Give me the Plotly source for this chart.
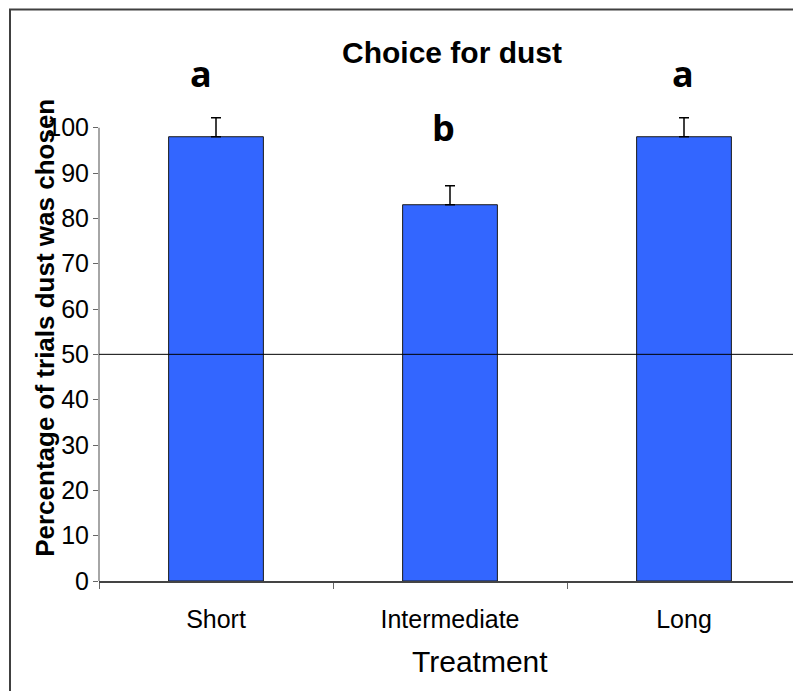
import plotly.graph_objects as go

# ---- data ----
categories = ["Short", "Intermediate", "Long"]
percent_chosen = [98, 83, 98]
std_error = [4.2, 4.2, 4.2]
sig_letters = ["a", "b", "a"]
letter_heights = [112, 100, 112]
reference_level = 50
y_ticks = [0, 10, 20, 30, 40, 50, 60, 70, 80, 90, 100]
y_axis_top = 100     # visible axis line ends here
y_range_max = 105    # headroom so error bars are not clipped

# ---- layout geometry (pixels, page has an 8px body margin) ----
OFF = 8
PX_PER_UNIT = 4.53
W, H = 801 - OFF, 691 - OFF
L, R, B = 99 - OFF, 0, 691 - 581
PH = y_range_max * PX_PER_UNIT
T = H - B - PH
PW = W - L - R


def px_x(px):
    # px given in page coordinates
    return (px - OFF - L) / PW


def px_y(py):
    return (H - B - (py - OFF)) / PH


fig = go.Figure()
fig.add_trace(go.Bar(
    x=categories,
    y=percent_chosen,
    width=0.405,
    marker=dict(color="#3366FF", line=dict(color="#1a1a1a", width=1)),
    error_y=dict(type="data", array=std_error, arrayminus=[0] * len(std_error),
                 symmetric=False, color="#000000", thickness=1.5, width=5),
    showlegend=False,
))

# y axis line (only up to 100)
fig.add_shape(type="line", xref="paper", yref="y", x0=0, x1=0,
              y0=0, y1=y_axis_top, line=dict(color="#888888", width=1.5))

fig.add_shape(type="line", xref="paper", yref="y", x0=0, x1=1,
              y0=reference_level, y1=reference_level,
              line=dict(color="#000000", width=1))

# outer border (clipped on right/bottom as in reference)
fig.add_shape(type="rect", xref="paper", yref="paper",
              x0=px_x(10), x1=px_x(900), y0=px_y(800), y1=px_y(10),
              line=dict(color="#404040", width=2), fillcolor="rgba(0,0,0,0)",
              layer="above")

shifts = [-15, -7, -1]
for cat, letter, yy, sh in zip(categories, sig_letters, letter_heights, shifts):
    fig.add_annotation(x=cat, y=yy / y_range_max, xref="x", yref="paper", text=letter,
                       showarrow=False, xshift=sh, xanchor="center", yanchor="middle",
                       font=dict(family="Open Sans", size=36, color="#000000", weight="bold"))

fig.add_annotation(x=px_x(452), y=px_y(53), xref="paper", yref="paper",
                   text="<b>Choice for dust</b>", showarrow=False,
                   xanchor="center", yanchor="middle",
                   font=dict(family="Liberation Sans", size=30, color="#000000"))
fig.add_annotation(x=px_x(480), y=px_y(661), xref="paper", yref="paper",
                   text="Treatment", showarrow=False,
                   xanchor="center", yanchor="middle",
                   font=dict(family="Liberation Sans", size=30, color="#000000"))
fig.add_annotation(x=px_x(45), y=px_y(328), xref="paper", yref="paper",
                   text="<b>Percentage of trials dust was chosen</b>", showarrow=False,
                   textangle=-90, xanchor="center", yanchor="middle",
                   font=dict(family="Liberation Sans", size=26, color="#000000"))

fig.update_layout(
    width=W, height=H,
    margin=dict(l=L, r=R, t=T, b=B, pad=0),
    paper_bgcolor="white", plot_bgcolor="white",
    font=dict(family="Liberation Sans", color="#000000"),
)
fig.update_xaxes(
    type="category", range=[-0.5, 2.5],
    showline=True, linecolor="#444444", linewidth=1.5,
    ticks="outside", tickson="boundaries", ticklen=6, tickcolor="#666666",
    showgrid=False, zeroline=False,
    tickfont=dict(family="Liberation Sans", size=25, color="#000000"),
    ticklabelstandoff=15,
)
fig.update_yaxes(
    range=[0, y_range_max], tickvals=y_ticks,
    showline=False,
    ticks="outside", ticklen=5, tickcolor="#666666",
    showgrid=False, zeroline=False,
    tickfont=dict(family="Liberation Sans", size=25, color="#000000"),
    ticklabelstandoff=-1,
)

fig.write_html("out.html")
